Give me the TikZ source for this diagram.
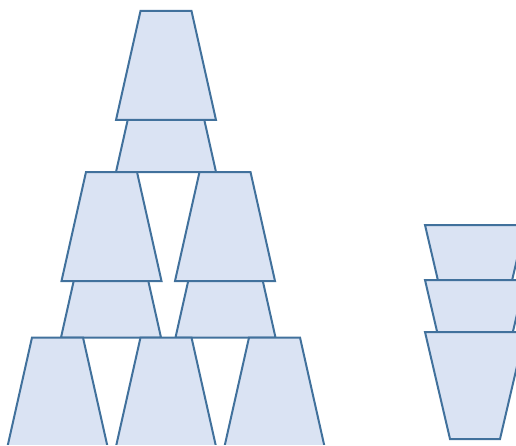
\documentclass[tikz,border=0pt]{standalone}
\definecolor{cupline}{HTML}{41719C}
\definecolor{cupfill}{HTML}{DAE3F3}
\tikzset{
  cupstyle/.style={draw=cupline, fill=cupfill, line width=1.5pt, line join=miter},
  pics/upcup/.style={code={
    \path[cupstyle] (-25.5,0) -- (25.5,0) -- (50,109) -- (-50,109) -- cycle;
  }},
  pics/downcup/.style={code={
    \path[cupstyle] (-50,0) -- (50,0) -- (25,107) -- (-25,107) -- cycle;
  }}
}
\begin{document}
\begin{tikzpicture}[x=0.75pt,y=-0.75pt]
\useasboundingbox (0,0) rectangle (516,445);
\begin{scope}
\clip (0,0) rectangle (516,445);
% hidden cups behind
\pic (b1) at (166,63) {upcup};
\pic (b2l) at (111,228.5) {upcup};
\pic (b2r) at (225.5,228.5) {upcup};
% front cups
\pic (top) at (166,11) {upcup};
\pic (m1) at (111.5,172) {upcup};
\pic (m2) at (225,172) {upcup};
\begin{scope}
\clip (0,0) rectangle (516,444);
\pic (l1) at (57.5,337.5) {upcup};
\pic (l2) at (166,337.5) {upcup};
\pic (l3) at (274.5,337.5) {upcup};
\end{scope}
% inverted stack
\pic (s1) at (475,225) {downcup};
\pic (s2) at (475,280) {downcup};
\pic (s3) at (475,332) {downcup};
\end{scope}
\end{tikzpicture}
\end{document}
